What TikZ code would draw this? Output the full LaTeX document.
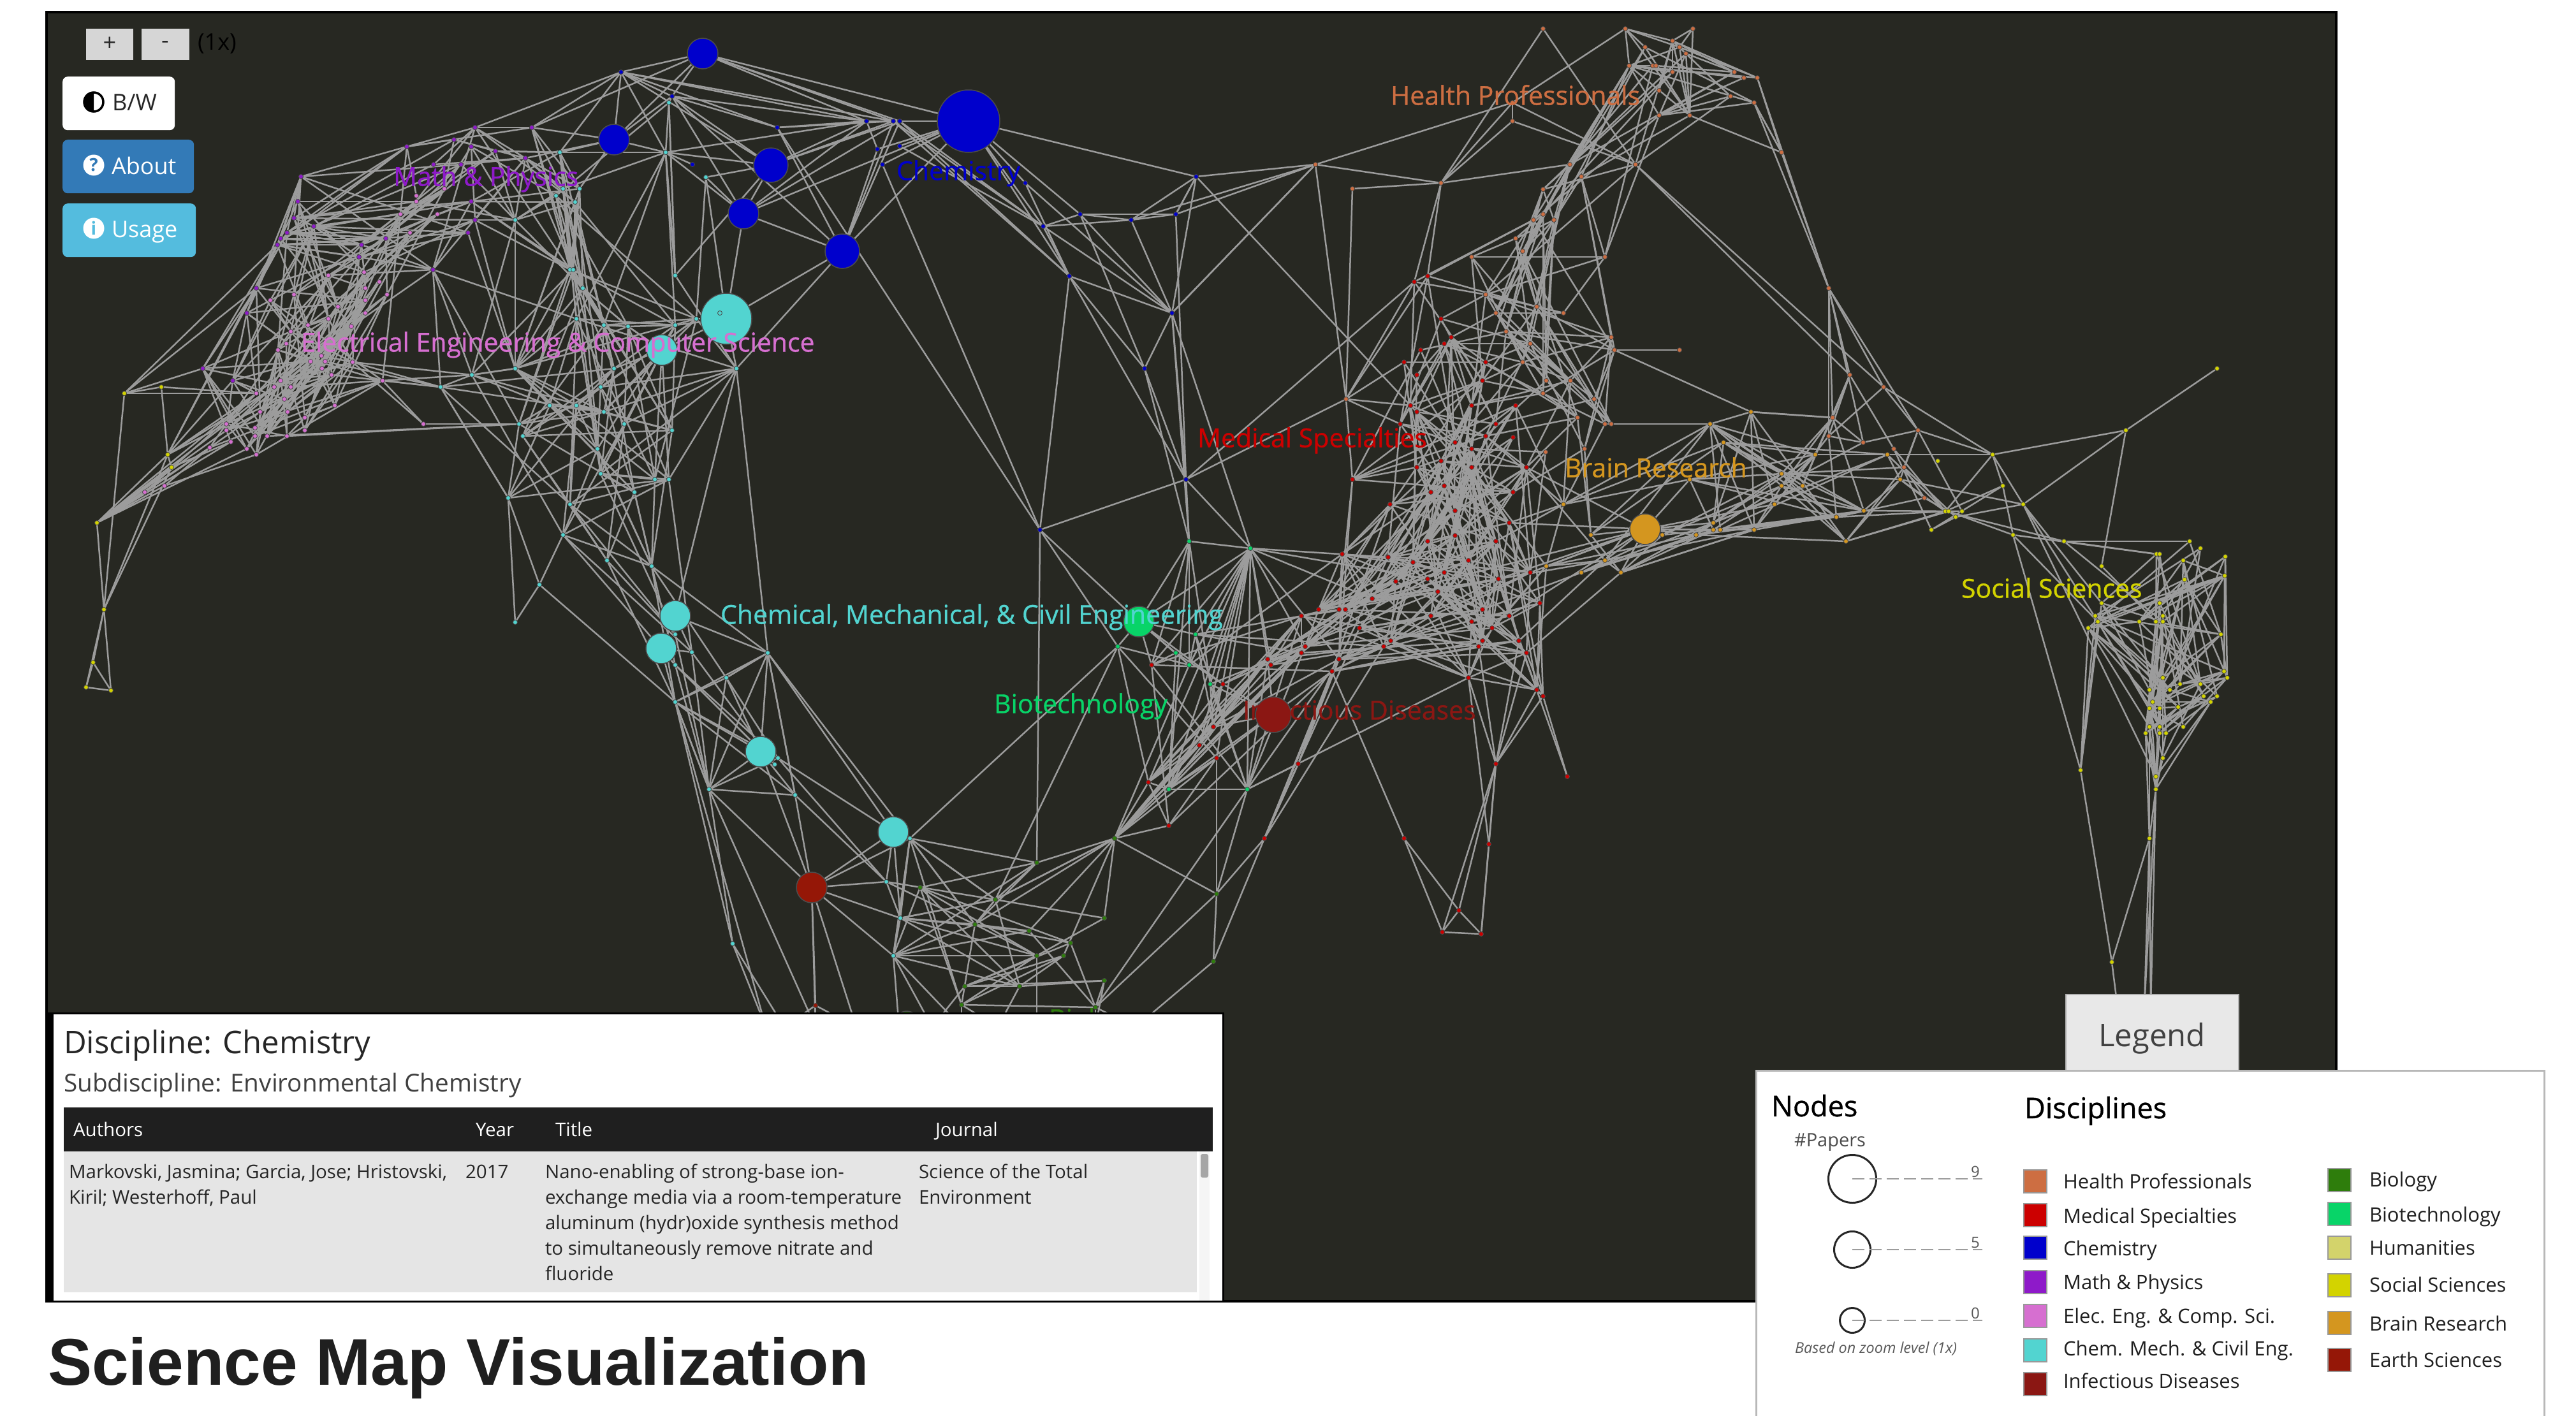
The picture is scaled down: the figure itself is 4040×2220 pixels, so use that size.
\documentclass[tikz,border=0pt]{standalone}
\usepackage{fontspec}
\setmainfont{Open Sans}
\newfontfamily\semib[FakeBold=0.8]{Open Sans}
\newfontfamily\heavyfont{Liberation Sans}
\definecolor{colH}{HTML}{CD6E42}
\definecolor{colM}{HTML}{CC0000}
\definecolor{colC}{HTML}{0000CC}
\definecolor{colP}{HTML}{8E1AC9}
\definecolor{colE}{HTML}{D66FD0}
\definecolor{colK}{HTML}{52D4D0}
\definecolor{colI}{HTML}{8B1713}
\definecolor{colB}{HTML}{2E7D0C}
\definecolor{colT}{HTML}{08D468}
\definecolor{colU}{HTML}{D3D36B}
\definecolor{colS}{HTML}{D3D300}
\definecolor{colR}{HTML}{D4961F}
\definecolor{colA}{HTML}{951707}
\definecolor{panel}{HTML}{272822}
\definecolor{edgegray}{HTML}{9C9C9C}
\definecolor{bluebtn}{HTML}{337AB7}
\definecolor{cyanbtn}{HTML}{54BCDE}
\pgfdeclarelayer{pbg}\pgfdeclarelayer{pedges}\pgfdeclarelayer{plabel}\pgfdeclarelayer{ptop}
\pgfsetlayers{pbg,pedges,main,plabel,ptop}
\newcommand\fs[1]{\fontsize{#1}{#1}\selectfont}
\tikzset{
  edge/.style={draw=edgegray,line width=2.5pt},
  dotn/.style={circle,inner sep=0pt,minimum size=7pt,draw=black!70,line width=.8pt},
  bign/.style={circle,inner sep=0pt,minimum size=#1,draw=black!70,line width=1.5pt},
  txt/.style={anchor=base west,inner sep=0pt,outer sep=0pt},
  lgtxt/.style={anchor=base west,inner sep=0pt,outer sep=0pt,yshift=-2pt,font=\fs{31},text=black!88},
  maplabel/.style={anchor=base west,inner sep=0pt,outer sep=0pt,yshift=-2.5pt,font=\semib\fs{41}},
  btn/.style={anchor=north west,inner sep=0pt,rounded corners=8pt},
  swatch/.style={anchor=north west,inner sep=0pt,minimum width=36pt,minimum height=36pt,draw=black!40,line width=1.5pt},
}
\newcount\NN \NN=0
\newcount\cii \newcount\cjj \newcount\cdx \newcount\cdy \newcount\cdd \newcount\chh \newcount\clim \newcount\cthr
\def\rox{0}\def\roy{0}\def\rfx{861}\def\rfy{510}
\newcommand\region[3]{\gdef\rox{#1}\gdef\roy{#2}\gdef\rfx{#3}}
\newcommand\dotset[4]{%
  \foreach \x/\y [count=\i] in {#4}{%
    \edef\zpx{\the\numexpr\rox+\x*\rfx/1000\relax}%
    \edef\zpy{\the\numexpr\roy+\y*\rfy/1000\relax}%
    \node[dotn,fill=#2] (#1\i) at (\zpx,\zpy) {};
    \ifnum#3>0
      \global\advance\NN by 1
      \expandafter\xdef\csname AX\the\NN\endcsname{\zpx}%
      \expandafter\xdef\csname AY\the\NN\endcsname{\zpy}%
      \expandafter\xdef\csname AN\the\NN\endcsname{#1\i}%
      \expandafter\xdef\csname AC\the\NN\endcsname{#3}%
    \fi
  }}
\newcommand\testpair{%
  \cdx=\numexpr\csname AX\the\cii\endcsname-\csname AX\the\cjj\endcsname\relax
  \cdy=\numexpr\csname AY\the\cii\endcsname-\csname AY\the\cjj\endcsname\relax
  \cdd=\numexpr\cdx*\cdx+\cdy*\cdy\relax
  \chh=\numexpr\cii*131+\cjj*\cjj*17+\cii*\cjj*7\relax
  \chh=\numexpr\chh-\chh/100*100+50\relax
  \ifnum\csname AC\the\cii\endcsname=\csname AC\the\cjj\endcsname\relax
    \ifcase\csname AC\the\cii\endcsname\relax
    \or \clim=90000 \cthr=22
    \or \clim=90000 \cthr=14
    \or \clim=90000 \cthr=28
    \or \clim=90000 \cthr=20
    \or \clim=102400 \cthr=20
    \or \clim=90000 \cthr=30
    \or \clim=57600 \cthr=14
    \or \clim=90000 \cthr=40
    \fi
  \else
    \clim=40000 \cthr=14
  \fi
  \ifnum\cdd<\clim
    \ifnum\cdd>1600
    \ifnum\chh<\cthr
      \edef\na{\csname AN\the\cii\endcsname}%
      \edef\nb{\csname AN\the\cjj\endcsname}%
      \draw[edge] (\na) -- (\nb);
    \fi
    \fi
  \fi}
\newcommand\innerpairs{\loop\ifnum\cjj<\NN \advance\cjj by 1 \testpair\repeat}
\newcommand\autoedges{%
  \cii=0
  \loop\ifnum\cii<\NN
    \advance\cii by 1
    \cjj=\cii
    {\innerpairs}%
  \repeat}
\begin{document}
\begin{tikzpicture}[x=1pt,y=-1pt]
\useasboundingbox (0,0) rectangle (4040,2220);
\begin{pgfonlayer}{pbg}
  \fill[white] (0,0) rectangle (4040,2220);
  \draw[line width=4pt,draw=black,fill=panel] (73,19) rectangle (3664,2041);
\end{pgfonlayer}
% big nodes
\node[bign=48pt,fill=colC] (B1) at (1102,84) {};
\node[bign=48pt,fill=colC] (B2) at (963,219) {};
\node[bign=54pt,fill=colC] (B3) at (1209,259) {};
\node[bign=48pt,fill=colC] (B4) at (1166,335) {};
\node[bign=54pt,fill=colC] (B5) at (1321,394) {};
\node[bign=98pt,fill=colC] (B6) at (1519,190) {};
\node[bign=80pt,fill=colK] (K1) at (1139,500) {};
\node[bign=48pt,fill=colK] (K2) at (1038,549) {};
\node[bign=48pt,fill=colK] (K3) at (1059,966) {};
\node[bign=48pt,fill=colK] (K4) at (1037,1017) {};
\node[bign=48pt,fill=colK] (K5) at (1193,1179) {};
\node[bign=48pt,fill=colK] (K6) at (1401,1305) {};
\node[bign=48pt,fill=colA] (R1) at (1273,1392) {};
\node[bign=48pt,fill=colT] (G1) at (1786,975) {};
\node[bign=56pt,fill=colI] (I1) at (1997,1121) {};
\node[bign=48pt,fill=colR] (O1) at (2580,830) {};
\node[bign=40pt,fill=colB] (GB) at (1422,1606) {};
\node[dotn,fill=colK] (K1d) at (1129,491) {};
% region A
\region{0}{0}{861}
\dotset{l}{colC}{0}{1131/221,1224/297,1416/392,1261/506}
\dotset{c}{colK}{3}{1020/468,1025/581,1056/581,1013/601,1048/622,939/677,1038/829,1044/829,1062/886,1230/848,1050/981,1100/1000,1144/1004,1230/1000,1268/981,1119/1133,939/1133,859/1152,803/1190,1094/1190,1341/1133,1001/1247,1050/1247,1100/1266,945/1304,1137/1304,1224/1323,952/1342,1088/1380,1094/1456,1193/1475,1218/1475,1156/1513,926/1532,1038/1551,1218/316,1212/468,1286/545}
\dotset{p}{colP}{1}{741/450,865/392,969/392,827/430,858/450,903/465,957/487,840/506,790/506,548/544,542/620,535/670,571/697,523/716,511/733,505/753,703/733,659/753,654/791,789/829,467/886,858/620,865/677,852/715,369/1134,424/1171,450/962}
\dotset{e}{colE}{2}{809/581,759/601,759/620,729/658,797/658,747/715,598/848,663/838,691/867,666/886,705/905,535/905,492/924,666/924,616/943,666/962,598/981,561/1000,640/1004,530/1019,522/1057,506/1076,585/1095,566/1112,592/1112,642/1114,586/1133,604/1152,697/1170,511/1171,530/1190,499/1190,467/1209,518/1228,610/1247,474/1266,524/1266,555/1285,412/1304,465/1315,555/1323,412/1323,487/1342,523/1342,420/1358,465/1342,382/1377,449/1380,467/1399}
\dotset{w}{colE}{0}{300/1494,264/1514,771/1304}
\dotset{y}{colS}{0}{226/1209,294/1190,306/1399,313/1438}
% region D
\region{0}{800}{861}
\dotset{x}{colS}{0}{176/40,189/306,170/468,157/545,202/555}
\dotset{d}{colK}{3}{1025/77,1106/154,1187/173,1398/440,1230/382,1260/438,1230/477,1323/515,1230/591,1292/858,1417/763,1411/782,1448/877}
\dotset{u}{colK}{0}{982/230,939/345,1335/1333}
\dotset{ur}{colA}{0}{1485/1524}
\dotset{z}{colB}{0}{1395/1590,1428/1590,1485/1590,1560/1590}
% region B
\region{1350}{0}{861}
\dotset{b}{colC}{0}{10/372,59/372,71/372,30/459,71/449,40/506,300/563,611/544,400/658,493/677,574/658,332/696,380/849,567/962,517/1133,592/1475}
\dotset{j}{colH}{0}{828/506,896/581,1057/563,1243/88,1187/316,1187/373,884/1228,1491/1076,1392/88,1516/88}
\dotset{h}{colH}{5}{1479/126,1429/145,1491/145,1503/164,1399/202,1442/202,1448/202,1479/221,1454/278,1454/354,1510/354,1411/506,1292/506,1312/544,1243/582,1243/658,1225/677,1262/677,1193/734,1206/772,1113/791,1355/791,1138/905,1231/943,1157/962,1280/962,1175/1019,1219/1057,1367/1038,1373/1076,1206/1114,1249/1171,1293/1171,1243/1209,1336/1228,1305/1285,1355/1304,1367/1304,1318/1380,1247/1391}
\dotset{r}{colM}{4}{1008/867,1032/849,1057/981,1076/1038,1063/1057,1020/1076,989/1114,1013/1152,1138/1114,1132/1171,1001/1247,1013/1266,1113/1247,1193/1247,982/1304,1157/1304,1082/1361,1138/1342,1188/1346,1113/1380,1057/1418,1013/1438,1113/1438,1212/1438,896/1475,1063/1494,1038/1513,1188/1513,964/1551,1082/1570}
\dotset{br}{colR}{6}{1547/1304,1280/1551,1510/1475}
% region E
\region{1350}{800}{861}
\dotset{bb}{colC}{0}{326/60}
\dotset{t}{colM}{4}{877/135,961/145,1006/160,1032/97,1157/97,1082/78,1181/40,1107/154,1063/192,1032/211,1162/211,1219/192,974/219,931/272,1051/250,802/325,834/306,871/306,883/306,1038/325,1132/306,1181/325,1237/287,1113/344,1150/363,908/363,965/401,952/420,1132/401,1125/420,1199/401,1212/439,809/420,803/439,741/458,747/477,871/458,858/496,1107/515,660/535,530/477,1231/553,1243/572,642/667,617/724,648/762,524/838}
\dotset{g}{colT}{4}{598/97,710/117,610/382,468/420,574/440,598/477,636/535,561/858,704/858}
\dotset{q}{colM}{0}{1287/819,797/781,1157/781,561/970,735/1010,989/1010,1144/1028,1090/1232,1059/1298,1130/1304}
\dotset{v}{colB}{8}{462/1010,320/1085,245/1198,108/1161,208/1275,444/1255,307/1294,382/1332,320/1370,369/1370,444/1447,189/1465,289/1465,183/1522,427/1530}
\dotset{vv}{colB}{0}{648/1180,642/1389}
\dotset{ce}{colK}{8}{90/1010,47/1143,72/1255,59/1370}
\dotset{be}{colR}{6}{1330/77,1355/154,1249/173,1312/192,1385/192,1460/77,1522/77,1553/40,1553/60,1566/60}
\dotset{zz}{colB}{0}{70/1590,130/1590,183/1590,250/1590,320/1590,427/1590,500/1590}
% region C
\region{2700}{0}{855}
\dotset{n}{colH}{5}{23/221,41/240,66/240,16/297,60/316}
\dotset{o}{colH}{0}{110/468,197/886}
\dotset{m}{colH}{5}{235/1152,297/1190,203/1285,360/1323,197/1342,260/1360,316/1380,335/1438,372/1532}
\dotset{bc}{colR}{6}{3/1361,54/1266,172/1399,304/1399,110/1456,110/1494,148/1494,328/1475,97/1551}
\dotset{s}{colS}{0}{909/1133,741/1323}
\dotset{sa}{colS}{7}{497/1399,397/1418,516/1494,553/1551}
% region F
\region{2700}{800}{855}
\dotset{bf}{colR}{6}{210/21,60/60,228/97,261/2}
\dotset{f}{colS}{7}{410/3,416/3,441/3,429/21,385/60,535/77,628/97,697/173,798/135,804/135,859/97,878/117,924/144,847/154,849/213,923/201,697/287,804/287,685/325,809/325,690/344,766/344,797/344,809/344,672/363,916/382,922/497,809/516,928/516,841/535,878/535,785/553,822/553,884/572,909/572,791/591,897/591,785/610,803/610,838/605,785/667,803/667,847/667,778/686,803/686,815/686,809/762}
\dotset{fb}{colS}{0}{659/800,797/819,797/858,785/1010,716/1390}
\dotset{fz}{colS}{0}{726/1530,775/1530,787/1530}
% edges
\begin{pgfonlayer}{pedges}
\autoedges
\foreach \a/\b in {B1/l1,B1/l2,B1/B2,B1/B6,B1/b1,B1/b2,B1/b3,l1/B2,l1/l2,l1/b1,l1/b2,l1/B3,l1/l3,l1/p3,B1/p3,l1/c37,l1/c1,l2/B2,l2/c36,l2/B3,l2/B4,l2/l3,l2/b1,l2/B5,c36/c37,c36/c10,B2/p3,B2/c1,B2/p7,B2/c37,B2/c3,c37/B3,c37/b1,c37/B4,c37/c10,c37/c14,B3/B4,B3/b1,B3/b2,B3/c38,B3/b3,B3/c10,B4/B5,B4/b1,B4/b3,B4/K1,B4/c38,B5/K1,B5/b3,B5/b2,B5/c21,B5/b4,l3/B5,l3/b1,l3/b2,l4/c37,c38/K1,c38/c15,K1/c15,K1/c14,K1/c21,K1/K2,K2/c16,K2/c14,K2/c13,K2/c24,K2/c32,K2/c31,
B6/b1,B6/b2,B6/b3,B6/b4,B6/b5,B6/b7,B6/b8,B6/b9,B6/b12,B6/b13,B6/B5,B6/B4,B6/b6,b3/b12,b3/b13,b2/b12,b2/b13,b5/b12,b1/b4,b6/bb1,l3/bb1,b7/b14,b7/b13,b9/b14,b9/b15,b9/b12,b10/b14,b11/b8,b11/b16,b11/b10,b9/b10,b9/b11,b8/b10,b8/b11,b8/b14,b8/j1,b10/j1,b11/j1,b12/b10,b12/b13,b12/b14,b13/b14,b13/b15,b13/b16,b13/bb1,b14/j1,b14/b15,b14/b16,b14/g2,b14/g1,b15/b16,b15/g1,b16/bb1,b16/j7,b16/g1,b16/g2,b8/r11,b16/r1,bb1/G1,bb1/g4,bb1/v2,
c21/K3,c21/d4,K3/d4,K3/d6,K4/d6,K4/d7,K3/d5,K4/d9,K4/K3,d4/d8,d4/d9,d8/d9,d4/K5,d4/d13,d4/ce1,K5/d11,K5/d12,K5/d13,K5/R1,K5/d8,K5/d9,d13/R1,d13/ce2,d11/ce2,d9/d10,d9/z1,d10/R1,d10/u3,d10/z3,d9/u3,d9/u1,u1/u2,u1/d1,u1/c34,u2/c34,K5/d10,u3/z1,u3/z2,R1/ur1,R1/ce2,R1/ce3,R1/ce4,R1/ce1,R1/z3,R1/z4,ur1/z4,ur1/z3,ur1/z2,ce1/K6,K6/ce2,K6/ce3,K6/d11,K6/R1,K6/d4,ce1/g4,ce1/v3,ce1/v5,ce1/ce4,ce1/ce3,ce4/zz1,ce4/zz2,ce4/zz3,v12/zz2,v14/zz3,v14/zz4,v15/zz6,v15/zz7,v13/zz4,v11/zz6,v9/zz5,vv1/v1,vv1/vv2,vv1/q5,vv1/t46,vv1/v15,vv2/zz7,vv1/g9,vv2/q5,g9/v15,g9/g8,g9/q2,g9/t39,g8/v1,g8/t47,q4/v1,q4/t46,q4/t47,q4/t41,v1/t44,v1/t45,v1/t46,v1/t47,v1/g6,v1/v2,v1/v3,v2/v3,v2/v5,v3/g4,v3/v5,v3/ce1,v3/ce3,v5/ce3,v5/ce4,I1/g7,I1/t46,I1/t44,I1/t35,I1/t40,G1/g1,G1/g2,G1/g3,G1/g5,G1/g4,G1/g6,G1/t40,G1/t41,
v1/t33,v1/t34,v1/t35,v1/t36,v1/t16,q5/t37,q5/t26,g9/t16,g9/t33,g9/t35,g2/g9,g2/t44,g2/t45,g2/t46,g2/t47,g2/g8,g2/t35,g2/t36,g2/g7,g2/g6,g1/g7,g1/t41,g1/g6,g1/g8,t16/t47,t33/t47,t34/g8,t35/g8,t37/q5,t38/q4,t38/g8,
O1/be1,O1/be2,O1/be3,O1/be6,O1/be7,O1/be8,O1/be9,O1/be10,O1/t12,O1/t11,O1/t22,O1/r24,O1/bc9,O1/be5,O1/t14,O1/t7,O1/br3,be5/bf2,be5/be1,be5/be2,be5/t32,q1/t43,q1/t42,q3/t39,q3/q7,q3/q8,q3/q9,q3/q10,q3/t42,q3/t32,q3/t31,q3/t30,q3/t43,q7/t39,q7/q10,q6/t38,q6/q8,q6/q9,q8/q10,q9/q10,q8/q9,q2/q5,q2/q5,q2/t38,q2/t37,q5/t38,q5/t28,t39/t32,t39/t29,
j1/j5,j1/j3,j1/j7,j1/b14,j2/j3,j2/j7,j3/h13,j3/j5,j3/j6,j3/r1,j3/r2,j5/j6,j5/j9,j5/h12,j6/h12,j4/j3,j4/h12,j9/h1,j9/h2,j9/h3,j9/h5,j9/h11,j10/h1,j10/h11,j10/h3,j7/r1,j7/r2,j7/r7,j7/r11,j7/r25,j7/r15,j8/h30,r1/h17,r2/h17,h11/o1,n3/o1,n5/o1,n5/o1,o1/o2,n3/o2,n5/o2,o2/m1,o2/m2,o2/m3,o2/m4,o2/m5,o2/m6,h12/m1,h12/m2,h30/bc2,h38/br1,br1/bc2,bc2/m3,
m2/sa1,m4/sa1,m2/m4,m1/m3,sa1/s2,s2/s1,s2/f8,s2/sa4,sa1/sa3,sa1/sa4,fb1/f25,fb1/f21,fb1/f19,fb1/f17,fb1/fb5,fb1/f6,fb2/f44,fb2/f37,fb2/f32,fb2/f41,fb2/f24,fb2/sa4,fb3/f41,fb3/f44,fb3/f45,fb3/f46,fb3/f47,fb3/fb4,fb3/fz2,fb3/fz3,fb4/fb5,fb4/f41,fb4/f44,fb3/f37,fb5/fz1,fb4/fz2,fb4/fz3,f24/f41,f24/f44,f23/f45,f23/f44,f24/f47,f20/f47,f23/f38,f24/f32,f24/f45,f23/f32,
e26/c18,e26/c19,e29/c18,e29/c19,e28/c19,w3/c25,w3/e26,w3/e29,e44/c25,e43/c25,c19/c34,c18/c17,c19/c18,p20/c11,p20/c25,p24/c17,p23/c17,p20/p19,p20/c19,p22/c8,p23/c6,p7/c3,p7/c2,p3/c7,p3/c8,p3/c2,p2/c7,p7/c8,p3/c3,c2/c7,c3/c7,c4/c7,c5/c8,c3/c8,c6/c4,c6/c2,c6/c9,p7/c6,c6/c17,p6/c1,p6/c6,p5/c6,p8/c6,c1/c3,c7/c9,c8/c9,c9/c13,c9/c12,c12/c13,c13/c14,c13/K2,
y1/p21,y1/p16,y1/p25,y1/x2,y1/e33,y1/y2,y2/e33,y2/y3,y3/y4,y3/x2,y3/p21,y3/p16,y3/p26,y3/e33,y3/e32,y3/e39,y4/x1,y4/e45,y4/x2,x1/e39,x1/e42,x1/e45,x1/e47,x1/e33,x1/w1,x1/w2,x1/y3,x1/e48,x1/x2,w1/e49,w1/e47,w2/e47,w2/e33,x2/x3,x2/x4,x2/x5,x3/x4,x3/x5,x4/x5,
p25/p21,p26/e33,p26/p27,p27/p21,p27/e33,p10/p1,p10/p14,p10/p15,p10/p16,p10/p11,p10/p12,p1/p2,p1/p3,p2/l1,p2/p3,p1/p16,p1/p14,p1/e2,p1/e4,p16/p17,p16/p18,p15/p17,p15/p18,p14/p17,p14/p18,p13/p17,p13/p18,p13/p19,p16/p19,p16/p21,p15/p21,p14/p21,p17/p19,p18/p19,p19/p21}
{\draw[edge] (\a) -- (\b);}
\end{pgfonlayer}
% labels on the map
\begin{pgfonlayer}{plabel}
  \node[maplabel,text=colP] (lmath) at (617,289) {Math \& Physics};
  \node[maplabel,text=colC] (lchem) at (1406,280) {Chemistry};
  \node[maplabel,text=colE] (leecs) at (472,549) {Electrical Engineering \& Computer Science};
  \node[maplabel,text=colH] (lhp) at (2181,162) {Health Professionals};
  \node[maplabel,text=colM] (lmed) at (1878,699) {Medical Specialties};
  \node[maplabel,text=colR] (lbrain) at (2454,746) {Brain Research};
  \node[maplabel,text=colS] (lsoc) at (3076,935) {Social Sciences};
  \node[maplabel,text=colK] (lcme) at (1130,976) {Chemical, Mechanical, \& Civil Engineering};
  \node[maplabel,text=colT] (lbio) at (1559,1116) {Biotechnology};
  \node[maplabel,text=colI] (linf) at (1949,1126) {Infectious Diseases};
  \node[maplabel,text=colB] (lbiol) at (1645,1610) {Biology};
\end{pgfonlayer}
\begin{pgfonlayer}{ptop}
  % zoom controls
  \node[btn,rounded corners=0pt,fill=black!16,minimum width=74pt,minimum height=49pt] (zplus) at (135,45) {};
  \node[btn,rounded corners=0pt,fill=black!16,minimum width=75pt,minimum height=49pt] (zminus) at (222,45) {};
  \node[inner sep=0pt,font=\fs{36},text=black!85] (zpt) at (172,69) {+};
  \node[inner sep=0pt,font=\fs{36},text=black!85] (zmt) at (259,70) {-};
  \node[txt,font=\fs{36},text=black] (zlev) at (310,78) {(1x)};
  % buttons
  \node[btn,fill=white,minimum width=176pt,minimum height=84pt] (bw) at (98,120) {};
  \node[fill=white,draw=black,line width=3.5pt,circle,inner sep=0pt,minimum size=30pt] (bwi) at (147,160) {};
  \fill[black] (147,144) arc[start angle=90,end angle=270,radius=16pt] -- cycle;
  \node[txt,font=\fs{36},text=black!85] (bwt) at (176,173) {B/W};
  \node[btn,fill=bluebtn,minimum width=206pt,minimum height=84pt] (about) at (98,219) {};
  \node[circle,fill=white,inner sep=0pt,minimum size=33pt,text=bluebtn,font=\fs{28}\bfseries] (abi) at (147,259) {?};
  \node[txt,font=\fs{36},text=white] (abt) at (175,273) {About};
  \node[btn,fill=cyanbtn,minimum width=209pt,minimum height=84pt] (usage) at (98,319) {};
  \node[circle,fill=white,inner sep=0pt,minimum size=33pt,text=cyanbtn,font=\fs{28}\bfseries] (usi) at (147,358) {i};
  \node[txt,font=\fs{36},text=white] (ust) at (175,372) {Usage};
  % info panel
  \fill[black] (73,1588) rectangle (1920,2043);
  \fill[white] (84,1591) rectangle (1917,2040);
  \fill[black!88] (100,1737) rectangle (1902,1806);
  \fill[black!10] (100,1806) rectangle (1877,2027);
  \fill[black!4] (1881,1806) rectangle (1897,2040);
  \fill[black!35,rounded corners=3pt] (1883,1810) rectangle (1895,1847);
  \node[txt,font=\fs{49},text=black!85] (idisc) at (100,1652) {Discipline: Chemistry};
  \node[txt,font=\fs{38.7},text=black!75] (isub) at (100,1712) {Subdiscipline: Environmental Chemistry};
  \node[txt,font=\fs{29.5},text=white] (th1) at (115,1782) {Authors};
  \node[txt,font=\fs{29.5},text=white] (th2) at (746,1782) {Year};
  \node[txt,font=\fs{29.5},text=white] (th3) at (871,1782) {Title};
  \node[txt,font=\fs{29.5},text=white] (th4) at (1467,1782) {Journal};
  \node[txt,font=\fs{29.5},text=black!85] (ta1) at (108,1848) {Markovski, Jasmina; Garcia, Jose; Hristovski,};
  \node[txt,font=\fs{29.5},text=black!85] (ta2) at (108,1888) {Kiril; Westerhoff, Paul};
  \node[txt,font=\fs{29.5},text=black!85] (ty1) at (730,1848) {2017};
  \node[txt,font=\fs{29.5},text=black!85] (tt1) at (855,1848) {Nano-enabling of strong-base ion-};
  \node[txt,font=\fs{29.5},text=black!85] (tt2) at (855,1888) {exchange media via a room-temperature};
  \node[txt,font=\fs{29.5},text=black!85] (tt3) at (855,1928) {aluminum (hydr)oxide synthesis method};
  \node[txt,font=\fs{29.5},text=black!85] (tt4) at (855,1968) {to simultaneously remove nitrate and};
  \node[txt,font=\fs{29.5},text=black!85] (tt5) at (855,2008) {fluoride};
  \node[txt,font=\fs{29.5},text=black!85] (tj1) at (1441,1848) {Science of the Total};
  \node[txt,font=\fs{29.5},text=black!85] (tj2) at (1441,1888) {Environment};
  % title
  \node[txt,font=\heavyfont\bfseries\fs{103.6},text=black!88] (title) at (75,2172) {Science Map Visualization};
  % legend tab and panel
  \draw[fill=black!9,draw=black!30,line width=2.5pt] (3240,1678) -- (3240,1560) -- (3511,1560) -- (3511,1678);
  \node[anchor=base,inner sep=0pt,font=\fs{49},text=black!75] (ltab) at (3375,1641) {Legend};
  \path[fill=white] (2754,1679) rectangle (3990,2225);
  \draw[draw=black!28,line width=3pt] (2754,2225) -- (2754,1679) -- (3990,1679) -- (3990,2225);
  \node[txt,font=\semib\fs{45},text=black] (lnodes) at (2778,1751) {Nodes};
  \node[txt,font=\semib\fs{45},text=black] (ldisc) at (3175,1754) {Disciplines};
  \node[txt,font=\fs{29},text=black!70] (lpap) at (2814,1798) {\#Papers};
  \node[circle,draw=black!85,line width=3pt,inner sep=0pt,minimum size=75pt] (sz9) at (2905,1849) {};
  \node[circle,draw=black!85,line width=3pt,inner sep=0pt,minimum size=57pt] (sz5) at (2905,1960) {};
  \node[circle,draw=black!85,line width=3pt,inner sep=0pt,minimum size=39pt] (sz0) at (2905,2071) {};
  \coordinate (de9) at (3109,1849);\coordinate (de5) at (3109,1960);\coordinate (de0) at (3109,2071);
  \draw[edgegray,line width=2.5pt,dash pattern=on 19pt off 8pt] (sz9.center) -- (de9);
  \draw[edgegray,line width=2.5pt,dash pattern=on 19pt off 8pt] (sz5.center) -- (de5);
  \draw[edgegray,line width=2.5pt,dash pattern=on 19pt off 8pt] (sz0.center) -- (de0);
  \node[anchor=base,inner sep=0pt,font=\fs{24},text=black!65] (num9) at (3098,1846) {9};
  \node[anchor=base,inner sep=0pt,font=\fs{24},text=black!65] (num5) at (3098,1957) {5};
  \node[anchor=base,inner sep=0pt,font=\fs{24},text=black!65] (num0) at (3098,2068) {0};
  \node[txt,font=\fs{23.4}\itshape,text=black!65] (lzoom) at (2815,2122) {Based on zoom level (1x)};
  % swatches
  \node[swatch,fill=colH] (sw1) at (3173,1834) {};
  \node[swatch,fill=colM] (sw2) at (3173,1887) {};
  \node[swatch,fill=colC] (sw3) at (3173,1938) {};
  \node[swatch,fill=colP] (sw4) at (3173,1992) {};
  \node[swatch,fill=colE] (sw5) at (3173,2045) {};
  \node[swatch,fill=colK] (sw6) at (3173,2099) {};
  \node[swatch,fill=colI] (sw7) at (3173,2152) {};
  \node[swatch,fill=colB] (sw8) at (3650,1832) {};
  \node[swatch,fill=colT] (sw9) at (3650,1885) {};
  \node[swatch,fill=colU] (sw10) at (3650,1938) {};
  \node[swatch,fill=colS] (sw11) at (3650,1997) {};
  \node[swatch,fill=colR] (sw12) at (3650,2056) {};
  \node[swatch,fill=colA] (sw13) at (3650,2114) {};
  \node[lgtxt] (lg1) at (3236,1862) {Health Professionals};
  \node[lgtxt] (lg2) at (3236,1916) {Medical Specialties};
  \node[lgtxt] (lg3) at (3236,1967) {Chemistry};
  \node[lgtxt] (lg4) at (3236,2020) {Math \& Physics};
  \node[lgtxt] (lg5) at (3236,2073) {Elec. Eng. \& Comp. Sci.};
  \node[lgtxt] (lg6) at (3236,2124) {Chem. Mech. \& Civil Eng.};
  \node[lgtxt] (lg7) at (3236,2175) {Infectious Diseases};
  \node[lgtxt] (lg8) at (3716,1859) {Biology};
  \node[lgtxt] (lg9) at (3716,1914) {Biotechnology};
  \node[lgtxt] (lg10) at (3716,1966) {Humanities};
  \node[lgtxt] (lg11) at (3716,2024) {Social Sciences};
  \node[lgtxt] (lg12) at (3716,2085) {Brain Research};
  \node[lgtxt] (lg13) at (3716,2142) {Earth Sciences};
\end{pgfonlayer}
\end{tikzpicture}
\end{document}
